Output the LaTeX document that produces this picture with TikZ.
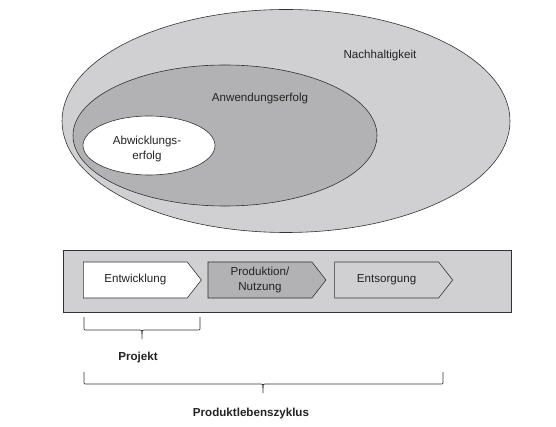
\documentclass[tikz,border=0pt]{standalone}
\usepackage{fontspec}
\setmainfont{Liberation Sans}
\usetikzlibrary{positioning, shapes.symbols}
\definecolor{hellgrau}{RGB}{208,208,210}
\definecolor{mittelgrau}{RGB}{178,178,180}
\definecolor{linie}{RGB}{50,50,50}
\definecolor{schrift}{RGB}{35,35,35}
\tikzset{
	phase/.style={signal, signal to=east, signal pointer angle=104, draw=linie, minimum width=118pt, minimum height=36pt, inner sep=0pt, align=center, text=schrift},
	klammer/.style={draw=linie, line width=0.7pt}
}

\begin{document}
\begin{tikzpicture}[x=1pt, y=-1pt, font=\fontsize{11.6}{14.5}\selectfont, line width=0.6pt]
			\useasboundingbox (0,0) rectangle (556,427);
			\draw[fill=hellgrau, draw=linie] (286,121) ellipse [x radius=224pt, y radius=111.5pt];
			\draw[fill=mittelgrau, draw=linie] (225,135.5) ellipse [x radius=152pt, y radius=70.5pt];
			\draw[fill=white, draw=linie] (149,145.5) ellipse [x radius=66pt, y radius=29.5pt];
			\node[text=schrift] (nachhaltigkeit) at (380,56) {Nachhaltigkeit};
			\node[text=schrift] (anwendung) at (260,99) {Anwendungserfolg};
			\node[text=schrift, align=center] (abwicklung) at (147,149) {Abwicklungs-\\erfolg};
			\draw[fill=hellgrau, draw=linie] (63,250) rectangle (511,312);
			\node[phase, fill=white, anchor=west] (entwicklung) at (83,280) {Entwicklung};
			\node[phase, fill=mittelgrau, right=6pt of entwicklung] (produktion) {Produktion/\\Nutzung};
			\node[phase, fill=hellgrau, right=8pt of produktion] (entsorgung) {Entsorgung};
			\draw[klammer] (84,317) -- (84,328) .. controls (84,330) .. (86,330) -- (138,330) .. controls (142,330) .. (142,334) -- (142,339);
			\draw[klammer] (142,334) .. controls (142,330) .. (146,330) -- (198,330) .. controls (200,330) .. (200,328) -- (200,317);
			\node[font=\fontsize{11.6}{14.5}\selectfont\bfseries, text=schrift] (projekt) at (138,357) {Projekt};
			\draw[klammer] (84,372) -- (84,382) .. controls (84,384) .. (86,384) -- (259,384) .. controls (263,384) .. (263,388) -- (263,393);
			\draw[klammer] (263,388) .. controls (263,384) .. (267,384) -- (441,384) .. controls (443,384) .. (443,382) -- (443,372);
			\node[font=\fontsize{11.6}{14.5}\selectfont\bfseries, text=schrift] (zyklus) at (251,413) {Produktlebenszyklus};
\end{tikzpicture}
\end{document}
